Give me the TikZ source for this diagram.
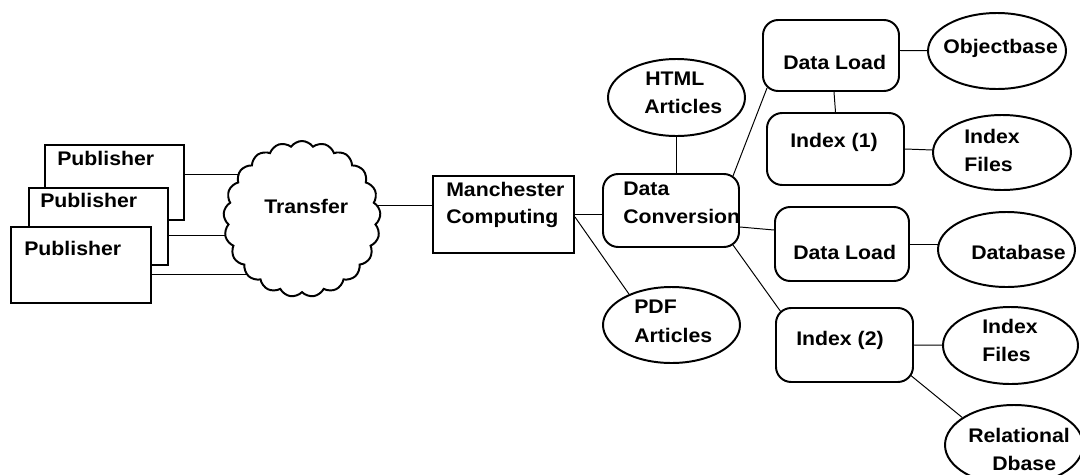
\documentclass[tikz,border=0pt]{standalone}
\usepackage{fontspec}
\setmainfont{Liberation Sans}[FakeStretch=1.08]
\usetikzlibrary{shapes.geometric,shapes.symbols,calc,backgrounds}
\begin{document}
\begin{tikzpicture}[x=0.25mm,y=-0.25mm,
  sz/.style 2 args={minimum width=#1*0.25mm,minimum height=#2*0.25mm},
  shp/.style={draw,line width=1.4pt,fill=white,inner sep=0pt},
  sqbox/.style={shp,rectangle},
  rbox/.style={shp,rectangle,rounded corners=3.8mm},
  oval/.style={shp,ellipse},
  cloudshape/.style={shp,cloud,cloud puffs=21,cloud puff arc=110,cloud ignores aspect},
  conn/.style={line width=0.7pt},
  lbl/.style={anchor=base west,inner sep=0pt,font=\fontsize{14pt}{19.6pt}\selectfont\bfseries}]
\useasboundingbox (0,0) rectangle (1080,474);
\clip (0,0) rectangle (1080,474);
% shapes
\node[sqbox,sz={139}{75}] (pub1) at (114.5,182.5) {};
\node[sqbox,sz={139}{77}] (pub2) at (98.5,226.5) {};
\node[sqbox,sz={140}{76}] (pub3) at (81,265) {};
\node[cloudshape,sz={157}{156}] (cloud) at (302,219) {};
\node[sqbox,sz={141}{77}] (man) at (503.5,214.5) {};
\node[rbox,sz={136}{73}] (dc) at (671,210.5) {};
\node[oval,sz={137}{77}] (html) at (676.5,97.5) {};
\node[oval,sz={137}{76}] (pdf) at (671.5,325) {};
\node[rbox,sz={136}{71}] (dl1) at (831,55.5) {};
\node[oval,sz={138}{76}] (obj) at (997,51) {};
\node[rbox,sz={137}{72}] (idx1) at (835.5,149) {};
\node[oval,sz={138}{75}] (if1) at (1002,152.5) {};
\node[rbox,sz={134}{74}] (dl2) at (842,244) {};
\node[oval,sz={137}{75}] (db) at (1006.5,249.5) {};
\node[rbox,sz={137}{74}] (idx2) at (844.5,345) {};
\node[oval,sz={135}{77}] (if2) at (1010.5,345.5) {};
\node[oval,sz={138}{80}] (rel) at (1014,445) {};
% labels
\node[lbl] (tp1) at (57,165) {Publisher};
\node[lbl] (tp2) at (40,207) {Publisher};
\node[lbl] (tp3) at (24,255) {Publisher};
\node[lbl] (ttr) at (264,213) {Transfer};
\node[lbl] (tm1) at (446,196) {Manchester};
\node[lbl] (tm2) at (446,223) {Computing};
\node[lbl] (td1) at (623,195) {Data};
\node[lbl] (td2) at (623,223) {Conversion};
\node[lbl] (th1) at (645,85) {HTML};
\node[lbl] (th2) at (644,113) {Articles};
\node[lbl] (tf1) at (634,313) {PDF};
\node[lbl] (tf2) at (634,342) {Articles};
\node[lbl] (tl1) at (783,69) {Data Load};
\node[lbl] (tob) at (943,53) {Objectbase};
\node[lbl] (ti1) at (790,147) {Index (1)};
\node[lbl] (tif1a) at (964,143) {Index};
\node[lbl] (tif1b) at (964,171) {Files};
\node[lbl] (tl2) at (793,259) {Data Load};
\node[lbl] (tdb) at (971,259) {Database};
\node[lbl] (ti2) at (796,345) {Index (2)};
\node[lbl] (tif2a) at (982,333) {Index};
\node[lbl] (tif2b) at (982,361) {Files};
\node[lbl] (tr1) at (968,442) {Relational};
\node[lbl] (tr2) at (992,470) {Dbase};
% connector end points
\coordinate (p1) at ($(pub1.east)+(0,-8.5)$);
\coordinate (p2) at ($(pub2.east)+(0,8.5)$);
\coordinate (p3) at ($(pub3.east)+(0,9)$);
\coordinate (m0) at ($(man.west)+(0,-9.5)$);
% connectors
\begin{scope}[on background layer]
\draw[conn] (p1) -- (p1 -| cloud.center);
\draw[conn] (p2) -- (p2 -| cloud.center);
\draw[conn] (p3) -- (p3 -| cloud.center);
\draw[conn] (m0) -- (m0 -| cloud.center);
\draw[conn] (man.east) -- (man.east -| dc.center);
\draw[conn] ($(man.east)+(0,2.5)$) -- (pdf.144);
\draw[conn] (html.center) -- (html.center |- dc.center);
\draw[conn] ($(dc.north east)+(-7,3)$) -- ($(dl1.south west)+(5,-4)$);
\draw[conn] ($(dc.east)+(0,16.5)$) -- ($(dl2.west)+(0,-14)$);
\draw[conn] ($(dc.south east)+(-7,-3)$) -- ($(idx2.north west)+(6,5)$);
\draw[conn] ($(dl1.south)+(3,0)$) -- (idx1.north);
\draw[conn] ($(dl1.east)+(0,-5)$) -- (obj.center);
\draw[conn] (idx1.east) -- (if1.center);
\draw[conn] (dl2.east) -- (dl2.east -| db.center);
\draw[conn] (idx2.east) -- (if2.center);
\draw[conn] ($(idx2.south east)+(-5,-9)$) -- (rel.152);
\end{scope}
\end{tikzpicture}
\end{document}
